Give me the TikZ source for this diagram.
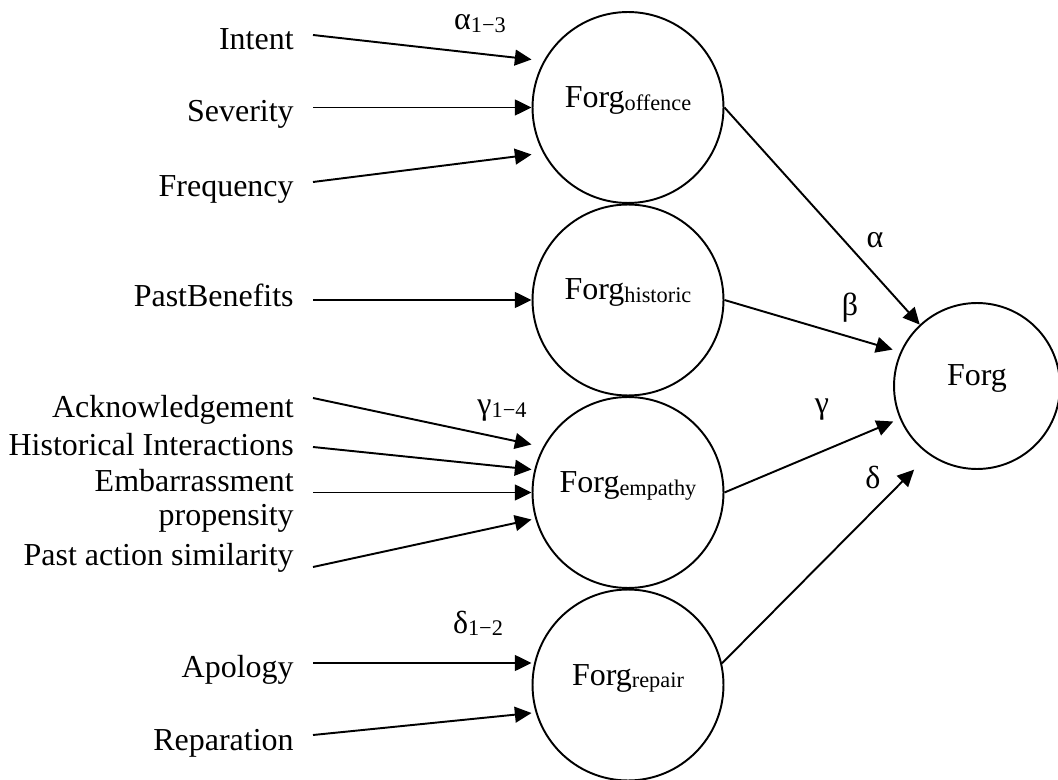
\documentclass[tikz,border=0pt]{standalone}
\usepackage{fontspec}
\setmainfont{Liberation Serif}
\usetikzlibrary{arrows.meta,calc}

\newcommand{\lowsub}[1]{\raisebox{-1.7pt}{\fontsize{12.7}{13}\selectfont #1}}

\begin{document}
\begin{tikzpicture}[x=0.02cm, y=-0.02cm,
    font=\fontsize{18.2}{18.8}\selectfont,
    factor/.style={circle, draw, line width=1.1pt, minimum size=3.82cm,
        inner sep=0pt, text height=0.35em, text depth=0.35em},
    input/.style={anchor=base east, inner sep=0pt},
    weight/.style={anchor=base, inner sep=0pt},
    link/.style={-{Triangle[length=9.5pt,width=9pt]}, line width=1.1pt}]
                \useasboundingbox (0,0) rectangle (1058,780);
                % latent factors
                \node[factor] (off) at (628,107.5) {Forg\lowsub{offence}};
                \node[factor] (his) at (628,300) {Forg\lowsub{historic}};
                \node[factor] (emp) at (628,492.5) {Forg\lowsub{empathy}};
                \node[factor] (rep) at (628,685) {Forg\lowsub{repair}};
                \node[factor, minimum size=3.32cm] (forg) at (977,386) {Forg};
                % observed inputs
                \node[input] (intent) at (294,50) {Intent};
                \node[input] (sev) at (294,122) {Severity};
                \node[input] (freq) at (294,197) {Frequency};
                \node[input] (past) at (294,307) {PastBenefits};
                \node[input] (ack) at (294,418) {Acknowledgement};
                \node[input] (hint) at (294,455) {Historical Interactions};
                \node[input, align=right] (emb) at (294,525) {Embarrassment\\propensity};
                \node[input] (sim) at (294,565) {Past action similarity};
                \node[input] (apol) at (294,677) {Apology};
                \node[input] (repa) at (294,750) {Reparation};
                \coordinate (intent-t) at (313,35);
                \coordinate (sev-t) at (313,107.5);
                \coordinate (freq-t) at (313,182);
                \coordinate (past-t) at (313,300);
                \coordinate (ack-t) at (313,398);
                \coordinate (hint-t) at (313,447);
                \coordinate (emb-t) at (313,492.5);
                \coordinate (sim-t) at (313,567);
                \coordinate (apol-t) at (313,663);
                \coordinate (repa-t) at (313,735);
                \draw[link] (intent-t) -- ($(off.west)+(0,-48)$);
                \draw[link] (sev-t) -- (off.west);
                \draw[link] (freq-t) -- ($(off.west)+(0,47)$);
                \draw[link] (past-t) -- (his.west);
                \draw[link] (ack-t) -- ($(emp.west)+(0,-48)$);
                \draw[link] (hint-t) -- ($(emp.west)+(0,-23)$);
                \draw[link] (emb-t) -- (emp.west);
                \draw[link] (sim-t) -- ($(emp.west)+(0,27)$);
                \draw[link] (apol-t) -- ($(rep.west)+(0,-22)$);
                \draw[link] (repa-t) -- ($(rep.west)+(0,28)$);
                % paths into Forg
                \draw[link] (off.east) -- (forg.133);
                \draw[link, shorten >=0.16cm] (his.east) -- (forg.156);
                \draw[link, shorten >=0.14cm] (emp.east) -- (forg.203);
                \draw[link, shorten >=0.42cm] (rep.13) -- (forg.235);
                % weights
                \node[weight] (w-a) at (480,30) {α\lowsub{1−3}};
                \node[weight] (w-g) at (502,415) {γ\lowsub{1−4}};
                \node[weight] (w-d) at (478,633) {δ\lowsub{1−2}};
                \node[weight] (alpha) at (875,248) {α};
                \node[weight] (beta) at (850,316) {β};
                \node[weight] (gamma) at (822,414) {γ};
                \node[weight] (delta) at (873,488) {δ};
            \end{tikzpicture}
\end{document}
